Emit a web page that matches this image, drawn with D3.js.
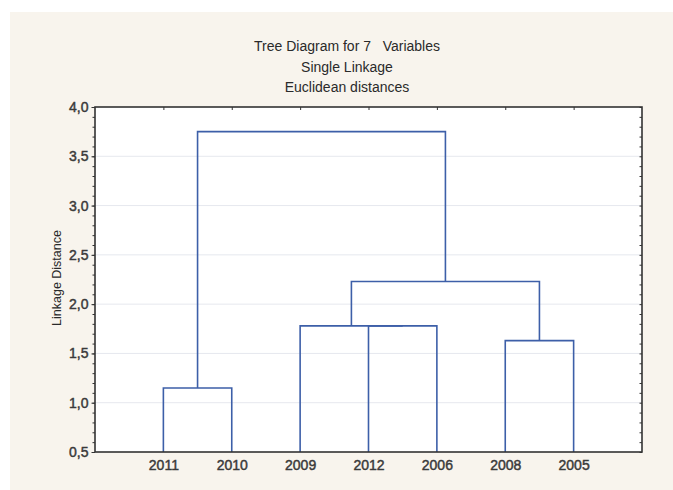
<!DOCTYPE html>
<html>
<head>
<meta charset="utf-8">
<script src="https://cdn.jsdelivr.net/npm/d3@7"></script>
<style>
  html, body { margin: 0; padding: 0; background: #ffffff; }
  svg { display: block; }
  text { font-family: "Liberation Sans", Arial, sans-serif; }
</style>
</head>
<body>
<svg id="chart" width="673" height="490"></svg>
<script>
// ---- data ----
const titleLines = ["Tree Diagram for 7   Variables", "Single Linkage", "Euclidean distances"];
const yAxisTitle = "Linkage Distance";
const leaves = ["2011", "2010", "2009", "2012", "2006", "2008", "2005"];
// merges: node ids 0..6 are leaves, merge k creates node 7+k
const mergeA = [0, 3, 2, 5, 9, 7];
const mergeB = [1, 4, 8, 6, 10, 11];
const mergeHeight = [1.15, 1.78, 1.78, 1.63, 2.23, 3.75];
const yTicks = [0.5, 1.0, 1.5, 2.0, 2.5, 3.0, 3.5, 4.0];
const yDomain = [0.5, 4.0];

(function () {
  const W = 673, H = 490;
  const plot = { left: 95, right: 642, top: 107, bottom: 452 };
  const svg = d3.select("#chart");

  svg.append("rect").attr("x", 10).attr("y", 12).attr("width", W - 10).attr("height", H - 12)
    .attr("fill", "#f8f4ed");
  svg.append("rect").attr("x", plot.left).attr("y", plot.top)
    .attr("width", plot.right - plot.left).attr("height", plot.bottom - plot.top)
    .attr("fill", "#ffffff");

  const x = d3.scalePoint().domain(leaves).range([plot.left, plot.right]).padding(1);
  const y = d3.scaleLinear().domain(yDomain).range([plot.bottom, plot.top]);

  // gridlines
  svg.append("g").selectAll("line").data(yTicks.slice(1, -1)).join("line")
    .attr("x1", plot.left).attr("x2", plot.right)
    .attr("y1", d => y(d)).attr("y2", d => y(d))
    .attr("stroke", "#e6e8ee").attr("stroke-width", 1);

  // titles
  svg.append("g").selectAll("text").data(titleLines).join("text")
    .attr("x", 347).attr("y", (d, i) => 51 + i * 20.5)
    .attr("text-anchor", "middle").attr("font-size", 14).attr("fill", "#2a2a2a")
    .style("white-space", "pre")
    .text(d => d);

  // dendrogram
  const nodeX = leaves.map(l => x(l));
  const nodeH = leaves.map(() => yDomain[0]);
  mergeA.forEach((a, k) => {
    nodeX.push((nodeX[a] + nodeX[mergeB[k]]) / 2);
    nodeH.push(mergeHeight[k]);
  });
  const links = mergeA.map((a, k) => ({ a, b: mergeB[k], h: mergeHeight[k] }));
  svg.append("g").selectAll("path").data(links).join("path")
    .attr("fill", "none").attr("stroke", "#3d5fa8").attr("stroke-width", 1.6)
    .attr("d", d => {
      const p = d3.path();
      p.moveTo(nodeX[d.a], y(nodeH[d.a]));
      p.lineTo(nodeX[d.a], y(d.h));
      p.lineTo(nodeX[d.b], y(d.h));
      p.lineTo(nodeX[d.b], y(nodeH[d.b]));
      return p.toString();
    });

  // axes
  const axisColor = "#333333";
  const labelStyle = sel => sel.attr("font-size", 14).attr("fill", "#3a3a3a")
    .attr("stroke", "#3a3a3a").attr("stroke-width", 0.45)
    .attr("font-family", "Liberation Sans, Arial, sans-serif");
  const minorTicks = d3.range(5, 41).map(v => v / 10);
  const gLeftMinor = svg.append("g").attr("transform", `translate(${plot.left},0)`)
    .call(d3.axisLeft(y).tickValues(minorTicks).tickSize(2.5).tickFormat(""));
  gLeftMinor.selectAll("line").attr("stroke", axisColor);
  gLeftMinor.select(".domain").remove();
  const gLeft = svg.append("g").attr("transform", `translate(${plot.left},0)`)
    .call(d3.axisLeft(y).tickValues(yTicks).tickSize(3.5).tickPadding(3)
      .tickFormat(d => d3.format(".1f")(d).replace(".", ",")));
  gLeft.select(".domain").remove();
  gLeft.selectAll("line").attr("stroke", axisColor);
  gLeft.selectAll("text").call(labelStyle);

  const gRight = svg.append("g").attr("transform", `translate(${plot.right},0)`)
    .call(d3.axisLeft(y).tickValues(minorTicks).tickSize(2.5).tickFormat(""));
  gRight.selectAll("line").attr("stroke", axisColor).attr("x2", -2.5);
  gRight.select(".domain").remove();

  const gTop = svg.append("g").attr("transform", `translate(0,${plot.top})`)
    .call(d3.axisBottom(x).tickSize(3).tickFormat(""));
  gTop.selectAll("line").attr("stroke", axisColor);
  gTop.select(".domain").remove();

  const gBottom = svg.append("g").attr("transform", `translate(0,${plot.bottom})`)
    .call(d3.axisBottom(x).tickSize(0).tickPadding(8));
  gBottom.select(".domain").remove();
  gBottom.selectAll("text").call(labelStyle);

  // frame
  svg.append("rect").attr("x", plot.left).attr("y", plot.top)
    .attr("width", plot.right - plot.left).attr("height", plot.bottom - plot.top)
    .attr("fill", "none").attr("stroke", axisColor).attr("stroke-width", 1.6);

  // y-axis title
  svg.append("text")
    .attr("transform", `translate(61,278) rotate(-90)`)
    .attr("text-anchor", "middle").attr("font-size", 12.5).attr("fill", "#2a2a2a")
    .text(yAxisTitle);
})();
</script>
</body>
</html>
